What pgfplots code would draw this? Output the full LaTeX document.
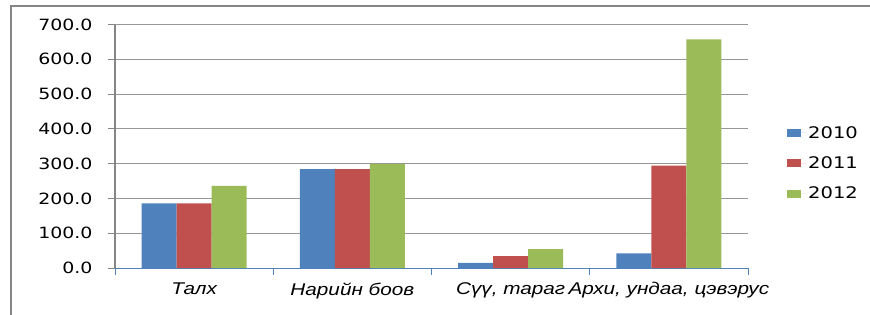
\documentclass[border=0pt]{standalone}
\usepackage{fontspec}
\setmainfont{DejaVu Sans}[FakeStretch=1.22]
\newfontfamily\xlfont{Liberation Sans}[FakeStretch=1.22]
\usepackage{pgfplots}
\pgfplotsset{compat=1.18}
\definecolor{cblue}{HTML}{4F81BD}
\definecolor{cred}{HTML}{C0504D}
\definecolor{cgreen}{HTML}{9BBB59}
\definecolor{gridc}{HTML}{969696}
\definecolor{axc}{HTML}{868686}
\definecolor{xax}{HTML}{4F81BD}
\begin{document}
\begin{tikzpicture}
\begin{axis}[
  at={(115pt,46pt)}, anchor=south west,
  scale only axis, width=633pt, height=243.5pt,
  ybar=0pt, bar width=35pt,
  xmin=-0.5, xmax=3.5, ymin=0, ymax=700,
  axis x line=bottom, axis y line=left,
  x axis line style={-, draw=xax, line width=0.8pt},
  y axis line style={-, draw=axc, line width=1.2pt},
  xtick={-0.5,0.5,1.5,2.5,3.5}, xticklabels={},
  x tick style={draw=xax, line width=0.8pt},
  xtick align=outside, xtick pos=bottom,
  extra x ticks={0,1,2,3},
  extra x tick labels={{Талх},{Нарийн боов},{Сүү, тараг},{Архи, ундаа, цэвэрус}},
  extra x tick style={major tick length=0pt, xticklabel style={font=\xlfont\itshape\fontsize{17}{20}\selectfont, yshift=-11pt}},
  major tick length=7pt,
  ytick={0,100,...,700},
  ytick align=outside, ytick pos=left,
  y tick style={draw=axc, line width=0.8pt},
  ymajorgrids, grid style={draw=gridc, line width=0.8pt},
  yticklabel style={font=\fontsize{15.5}{18}\selectfont, xshift=-12pt,
    /pgf/number format/fixed, /pgf/number format/fixed zerofill,
    /pgf/number format/precision=1, /pgf/number format/assume math mode=true},
  legend style={at={(1.0616,0.43)}, anchor=west, draw=none, fill=none, inner sep=0pt,
    font=\fontsize{16}{19}\selectfont, row sep=13pt},
  legend image code/.code={\fill[#1] (0pt,-4pt) rectangle (14pt,4pt); \path (0pt,0pt) -- (19pt,0pt);},
  legend cell align=left,
]
\addplot[fill=cblue, draw=none] coordinates {(0,186) (1,284) (2,15) (3,42)};
\addplot[fill=cred, draw=none] coordinates {(0,186) (1,284) (2,34) (3,294)};
\addplot[fill=cgreen, draw=none] coordinates {(0,236) (1,299) (2,54) (3,657)};
\legend{2010,2011,2012}
\end{axis}
\draw[axc, line width=1.5pt] (11pt,-2pt) -- (11pt,308pt) -- (872pt,308pt);
\pgfresetboundingbox
\path[use as bounding box] (0,0) rectangle (870pt,314pt);
\end{tikzpicture}
\end{document}
